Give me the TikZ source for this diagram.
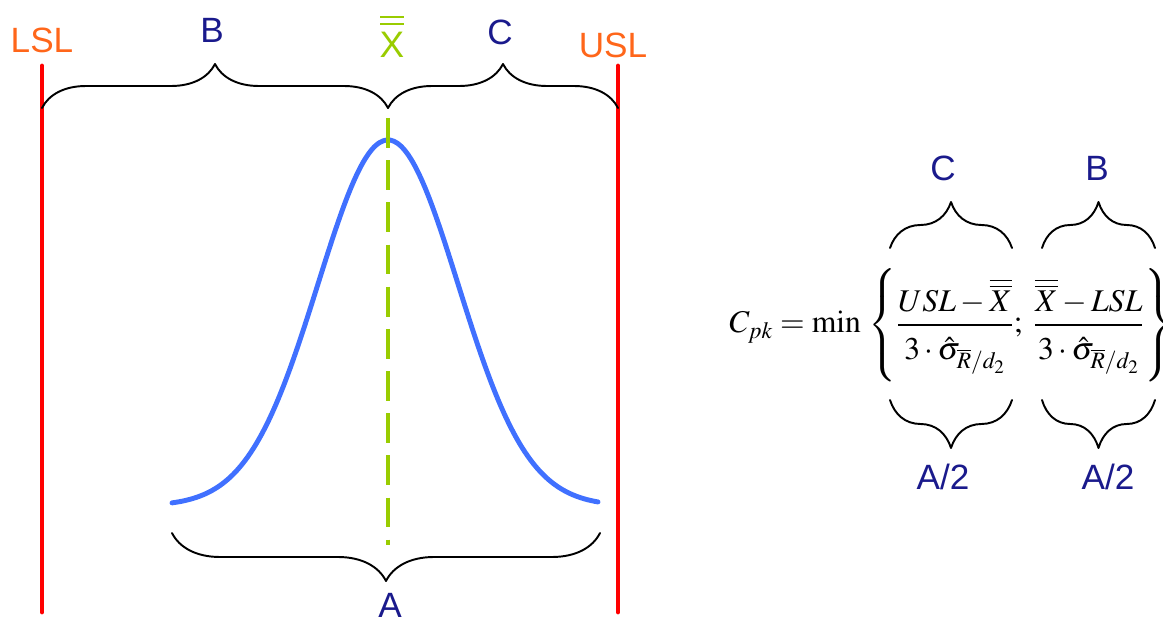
\documentclass[tikz,border=0pt]{standalone}
\usepackage{amsmath}
\usepackage{mathptmx}
\usepackage[no-math]{fontspec}
\setmainfont{Liberation Sans}
\usetikzlibrary{decorations.pathreplacing}
\definecolor{limred}{RGB}{255,0,0}
\definecolor{limorange}{RGB}{255,102,26}
\definecolor{labblue}{RGB}{26,26,140}
\definecolor{curveblue}{RGB}{64,112,255}
\definecolor{meangreen}{RGB}{153,204,0}
\newcommand{\sighat}{\rule{0pt}{0.95em}3\cdot\hat{\sigma}_{\overline{R}/d_2}}
\newcommand{\xbb}{\overline{\overline{X}}}
\tikzset{
  limit/.style={line width=2.8pt,limred,line cap=round},
  brc/.style={decorate,decoration={brace,amplitude=#1},line width=1.1pt,line cap=round},
  lab/.style={labblue,font=\fontsize{20}{24}\selectfont},
  limlab/.style={limorange,font=\fontsize{20}{24}\selectfont},
}
\begin{document}
\begin{tikzpicture}[x=0.02cm,y=-0.02cm,line join=round]
  \useasboundingbox (0,0) rectangle (1163,625);
  % specification limits
  \draw[limit] (42,66) -- (42,612);
  \draw[limit] (618,66) -- (618,612);
  \node[limlab] (lsl) at (42,40) {LSL};
  \node[limlab] (usl) at (613,45) {USL};
  % distribution and mean
  \draw[curveblue,line width=2.8pt,line cap=round,domain=172:598,samples=120,smooth]
    plot (\x,{506-366*exp(-((\x-388)/70)^2/2)});
  \draw[meangreen,line width=2.2pt,dash pattern=on 17pt off 7pt] (388,118) -- (388,545);
  \node[meangreen,font=\fontsize{21}{24}\selectfont] (xbar) at (392,45) {X};
  \draw[meangreen,line width=1.7pt] (380,17) -- (404,17) (380,24) -- (404,24);
  % braces
  \draw[brc=0.88cm] (42,108) -- (388,108);
  \draw[brc=0.88cm] (388,108) -- (618,108);
  \draw[brc=0.96cm] (600,533) -- (172,533);
  \node[lab] (b) at (212,30) {B};
  \node[lab] (c) at (500,32) {C};
  \node[lab] (a) at (390,605) {A};
  % formula
  \node[anchor=west,font=\fontsize{18}{22}\selectfont,inner sep=0pt] (frm) at (729,325)
    {$C_{pk}=\min\mkern2mu\left\{\rule[-1.5em]{0pt}{3.4em}\dfrac{USL-\xbb}{\sighat};\;
     \dfrac{\xbb-LSL}{\sighat}\right\}$};
  \draw[brc=0.92cm] (890,248) -- (1012,248);
  \draw[brc=0.92cm] (1042,248) -- (1155,248);
  \draw[brc=0.96cm] (1012,400) -- (890,400);
  \draw[brc=0.96cm] (1155,400) -- (1042,400);
  \node[lab] (cf) at (943,168) {C};
  \node[lab] (bf) at (1097,168) {B};
  \node[lab] (ah1) at (943,477) {A/2};
  \node[lab] (ah2) at (1108,477) {A/2};
\end{tikzpicture}
\end{document}
